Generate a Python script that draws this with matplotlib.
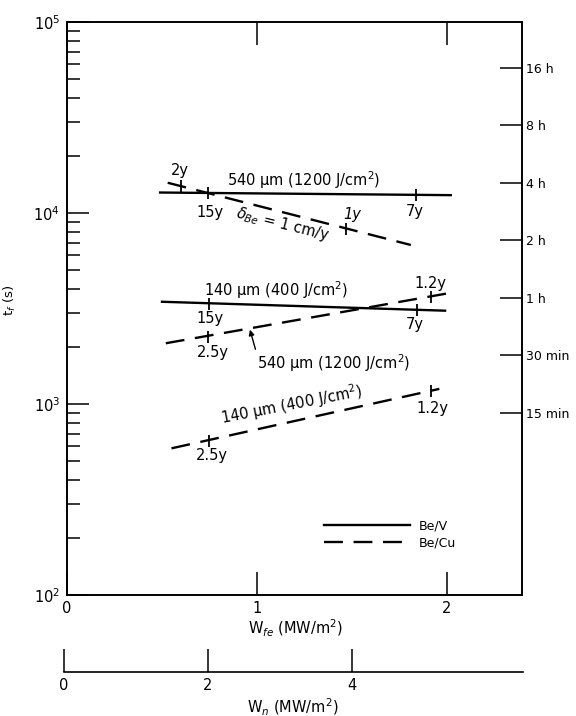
"""Fatigue lifetime t_f versus first-wall heat flux for Be/V and Be/Cu armour."""

import numpy as np
import matplotlib

matplotlib.use("Agg")
import matplotlib.pyplot as plt

plt.rcParams["font.family"] = ["DejaVu Sans"]

# line end points (W_fe in MW/m2, t_f in s)
wfe_v540 = [0.49, 2.02]
tf_v540 = [12800, 12400]
wfe_cu_erosion = [0.53, 1.81]
tf_cu_erosion = [14400, 6800]
wfe_v140 = [0.50, 1.99]
tf_v140 = [3430, 3080]
wfe_cu540 = [0.52, 2.02]
tf_cu540 = [2080, 3820]
wfe_cu140 = [0.55, 1.96]
tf_cu140 = [586, 1200]

# lifetime marks on the lines
mark_wfe = [0.744, 1.837, 0.60, 1.467, 0.749, 1.84, 0.74, 1.916, 0.749, 1.916]
mark_tf = [12750, 12450, 13770, 8280, 3350, 3100, 2256, 3650, 643, 1165]

# right-hand time axis
time_ticks = [900, 1800, 3600, 7200, 14400, 28800, 57600]
time_labels = ["15 min", "30 min", "1 h", "2 h", "4 h", "8 h", "16 h"]

# lower neutron wall load axis
wn_ticks = [0, 2, 4]

W, H = 576, 716
fig = plt.figure(figsize=(W / 100, H / 100), dpi=100)
ax = fig.add_axes([67 / W, 1 - 595 / H, 455 / W, 573 / H])

lw = 1.7
dash = (8, 4.5)
ax.plot(wfe_v540, tf_v540, "k-", lw=lw, label="Be/V")
ax.plot(wfe_v140, tf_v140, "k-", lw=lw)
ax.plot(wfe_cu_erosion, tf_cu_erosion, "k", lw=lw, dashes=dash, label="Be/Cu")
ax.plot(wfe_cu540, tf_cu540, "k", lw=lw, dashes=dash)
ax.plot(wfe_cu140, tf_cu140, "k", lw=lw, dashes=dash)
ax.plot(mark_wfe, mark_tf, "k|", ms=9, mew=1.3, ls="none")

ax.set_yscale("log")
ax.set_xlim(0, 2.395)
ax.set_ylim(1e2, 1e5)
ax.set_xticks([0, 1, 2])
ax.tick_params(axis="x", which="major", direction="in", length=16.5, width=1.1,
               top=True, labelsize=10.5, pad=4)
ax.tick_params(axis="y", which="major", direction="in", length=16, width=1.1,
               labelsize=10.5, pad=5)
ax.tick_params(axis="y", which="minor", direction="in", length=9, width=1.1)
for sp in ax.spines.values():
    sp.set_linewidth(1.2)

ax.set_ylabel("t$_f$ (s)", fontsize=9.5)
ax.yaxis.set_label_coords(-0.108, 0.515)
ax.set_xlabel("W$_{fe}$ (MW/m$^2$)", fontsize=10.5)
ax.xaxis.set_label_coords(0.503, -0.040)

# right axis in hours / minutes
axr = ax.twinx()
axr.set_yscale("log")
axr.set_ylim(1e2, 1e5)
axr.set_yticks(time_ticks)
axr.set_yticklabels(time_labels)
axr.yaxis.set_minor_locator(matplotlib.ticker.NullLocator())
axr.tick_params(axis="y", direction="in", length=16, width=1.1, labelsize=9, pad=3)
for sp in axr.spines.values():
    sp.set_linewidth(1.2)

fs = 10.5
ax.text(0.595, 16790, "2y", fontsize=fs, ha="center", va="center")
ax.text(1.245, 14900, "540 µm (1200 J/cm$^2$)", fontsize=fs, ha="center", va="center")
ax.text(0.753, 10120, "15y", fontsize=fs, ha="center", va="center")
ax.text(1.832, 10230, "7y", fontsize=fs, ha="center", va="center")
ax.text(1.137, 8750, r"$\delta_{Be}$ = 1 cm/y", fontsize=fs, ha="center", va="center",
        rotation=-14)
ax.text(1.50, 9880, "1y", fontsize=fs, ha="center", va="center", style="italic")
ax.text(1.10, 3954, "140 µm (400 J/cm$^2$)", fontsize=fs, ha="center", va="center")
ax.text(1.911, 4250, "1.2y", fontsize=fs, ha="center", va="center")
ax.text(0.753, 2818, "15y", fontsize=fs, ha="center", va="center")
ax.text(1.832, 2594, "7y", fontsize=fs, ha="center", va="center")
ax.text(0.768, 1871, "2.5y", fontsize=fs, ha="center", va="center")
ax.annotate("540 µm (1200 J/cm$^2$)", xy=(0.963, 2450), xytext=(1.403, 1641),
            fontsize=fs, ha="center", va="center",
            arrowprops=dict(arrowstyle="-|>", color="k", lw=1, shrinkA=0, shrinkB=0,
                            relpos=(0.0, 0.9), mutation_scale=8))
ax.text(1.184, 989, "140 µm (400 J/cm$^2$)", fontsize=fs, ha="center", va="center",
        rotation=11)
ax.text(1.926, 952, "1.2y", fontsize=fs, ha="center", va="center")
ax.text(0.763, 535, "2.5y", fontsize=fs, ha="center", va="center")

ax.legend(loc="center left", bbox_to_anchor=(0.565, 0.1056), frameon=False,
          fontsize=9, handlelength=6.9, handletextpad=0.7, labelspacing=0.3,
          borderpad=0, borderaxespad=0)

# second x axis: neutron wall load
axn = fig.add_axes([64 / W, 1 - 672 / H, 459 / W, 0.0001])
axn.set_xlim(0, 6.375)
axn.set_xticks(wn_ticks)
axn.set_yticks([])
for name in ("left", "right", "top"):
    axn.spines[name].set_visible(False)
axn.spines["bottom"].set_linewidth(1.2)
axn.tick_params(axis="x", direction="in", length=16.5, width=1.1, labelsize=10.5, pad=4)
fig.text(293 / W, 1 - 707 / H, "W$_n$ (MW/m$^2$)", fontsize=10.5, ha="center", va="center")

fig.savefig("out.png", dpi=100)
